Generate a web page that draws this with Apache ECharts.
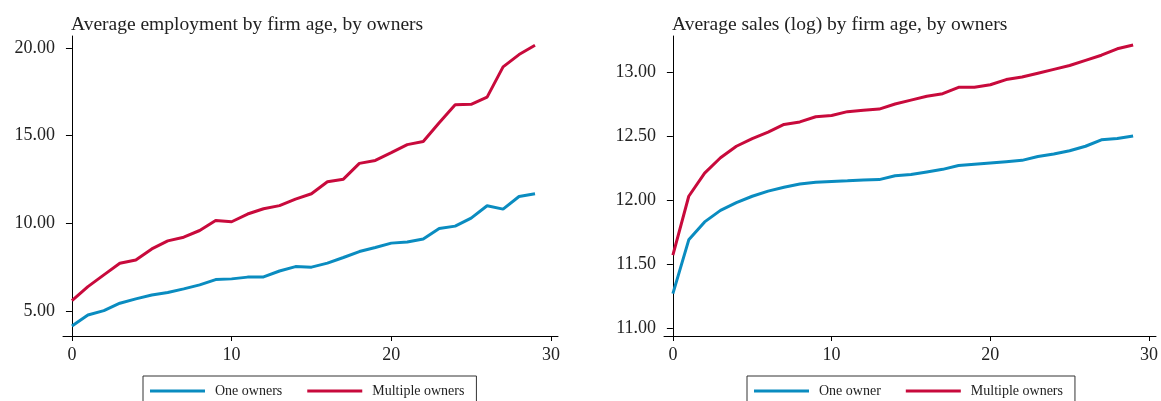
<!DOCTYPE html>
<html>
<head>
<meta charset="utf-8">
<script src="https://cdn.jsdelivr.net/npm/echarts@6/dist/echarts.min.js"></script>
<style>
html,body{margin:0;padding:0;background:#fff;}
#c{width:1161px;height:401px;}
</style>
</head>
<body>
<div id="c"></div>
<script>
// firm age (years)
const ages = [0,1,2,3,4,5,6,7,8,9,10,11,12,13,14,15,16,17,18,19,20,21,22,23,24,25,26,27,28,29];

// Left panel: average employment
const empOne = [4.14,4.77,5.02,5.44,5.69,5.91,6.05,6.26,6.49,6.79,6.83,6.93,6.94,7.28,7.53,7.50,7.73,8.05,8.39,8.62,8.87,8.93,9.10,9.70,9.84,10.30,11.00,10.81,11.53,11.69];
const empMulti = [5.59,6.39,7.06,7.72,7.91,8.54,9.00,9.21,9.59,10.16,10.09,10.53,10.83,11.01,11.38,11.69,12.37,12.52,13.42,13.59,14.03,14.49,14.67,15.74,16.77,16.79,17.20,18.93,19.63,20.16];

// Right panel: average log sales
const salesOne = [11.27,11.69,11.83,11.92,11.98,12.03,12.07,12.10,12.125,12.14,12.146,12.15,12.156,12.16,12.19,12.20,12.22,12.24,12.27,12.28,12.29,12.30,12.31,12.34,12.36,12.385,12.42,12.47,12.48,12.50];
const salesMulti = [11.57,12.03,12.21,12.33,12.42,12.48,12.53,12.59,12.61,12.65,12.66,12.69,12.70,12.71,12.75,12.78,12.81,12.83,12.88,12.88,12.90,12.94,12.96,12.99,13.02,13.05,13.09,13.13,13.18,13.21];

// Tick labels
const xTicks = [0,10,20,30];
const empTicks = [5,10,15,20];
const salesTicks = [11,11.5,12,12.5,13];

const titles = ['Average employment by firm age, by owners','Average sales (log) by firm age, by owners'];
const legendLeft = ['One owners','Multiple owners'];
const legendRight = ['One owner','Multiple owners'];

const BLUE = '#0a8cc0';
const RED = '#c80a3c';
const FONT = '"Liberation Serif", "DejaVu Serif", serif';

function pairs(xs, ys){ return xs.map((x,i)=>[x, ys[i]]); }

function xAxisCfg(idx){
  return {
    type:'value', gridIndex:idx, min:-0.56, max:30.44,
    axisLine:{show:true, lineStyle:{color:'#000', width:1}},
    axisTick:{show:true, length:5, customValues:xTicks, lineStyle:{color:'#000'}},
    axisLabel:{customValues:xTicks, color:'#222', fontFamily:FONT, fontSize:18, margin:10},
    splitLine:{show:false}
  };
}
function yAxisCfg(idx, min, max, ticks){
  return {
    type:'value', gridIndex:idx, min:min, max:max,
    axisLine:{show:true, lineStyle:{color:'#000', width:1}},
    axisTick:{show:true, length:6, customValues:ticks, lineStyle:{color:'#000'}},
    axisLabel:{customValues:ticks, color:'#222', fontFamily:FONT, fontSize:18, margin:8,
      formatter:v=>Number(v).toFixed(2)},
    splitLine:{show:false}
  };
}
function lineSeries(name, idx, ys, color){
  return {
    name:name, type:'line', xAxisIndex:idx, yAxisIndex:idx,
    data:pairs(ages, ys), symbol:'none', smooth:false,
    lineStyle:{color:color, width:3}, itemStyle:{color:color},
    emphasis:{disabled:true}, animation:false
  };
}
function legendCfg(left, names, padRight){
  return {
    left:left, top:376, orient:'horizontal',
    data:names, icon:'rect', itemWidth:55, itemHeight:3, itemGap:25,
    borderColor:'#333', borderWidth:1, padding:[8,padRight,20,7],
    textStyle:{fontFamily:FONT, fontSize:14, color:'#222', padding:[0,0,0,5]},
    selectedMode:false
  };
}

const chart = echarts.init(document.getElementById('c'));
chart.setOption({
  backgroundColor:'#fff',
  animation:false,
  title:[
    {text:titles[0], left:66, top:10, textStyle:{fontFamily:FONT, fontSize:19.5, fontWeight:'normal', color:'#222'}},
    {text:titles[1], left:667, top:10, textStyle:{fontFamily:FONT, fontSize:19.5, fontWeight:'normal', color:'#222'}}
  ],
  legend:[legendCfg(143, legendLeft, 12), legendCfg(747, legendRight, 12)],
  grid:[
    {left:63, width:495, top:36, height:300},
    {left:664, width:494, top:36, height:300}
  ],
  xAxis:[xAxisCfg(0), xAxisCfg(1)],
  yAxis:[yAxisCfg(0, 3.57, 20.69, empTicks), yAxisCfg(1, 10.94, 13.28, salesTicks)],
  series:[
    lineSeries('One owners', 0, empOne, BLUE),
    lineSeries('Multiple owners', 0, empMulti, RED),
    lineSeries('One owner', 1, salesOne, BLUE),
    lineSeries('Multiple owners', 1, salesMulti, RED)
  ]
});
</script>
</body>
</html>
